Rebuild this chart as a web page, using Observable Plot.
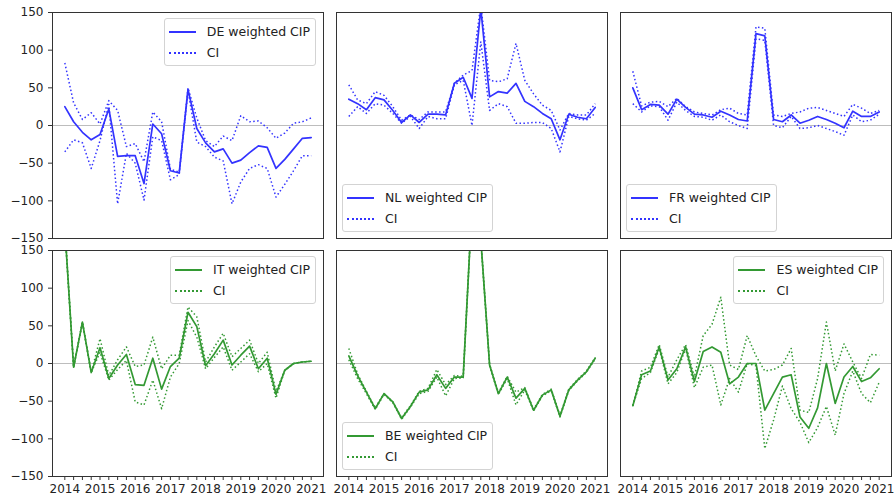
<!DOCTYPE html>
<html><head><meta charset="utf-8">
<script src="https://cdn.jsdelivr.net/npm/d3@7"></script>
<script src="https://cdn.jsdelivr.net/npm/@observablehq/plot@0.6"></script>
<style>
body{margin:0;background:#fff;font-family:"DejaVu Sans",sans-serif;}
#fig{position:relative;width:894px;height:498px;overflow:hidden;background:#fff;}
.panel{position:absolute;}
.legend{position:absolute;border:1px solid #d3d3d3;border-radius:3px;background:rgba(255,255,255,0.8);padding:2px 5px 2px 4px;font-size:12.5px;color:#222;}
.row{display:flex;align-items:center;height:21px;white-space:nowrap;}
.sw{width:27px;height:0;margin-right:11px;}
</style></head><body><div id="fig"></div><script>
const periods = ["2014Q1","2014Q2","2014Q3","2014Q4","2015Q1","2015Q2","2015Q3","2015Q4",
  "2016Q1","2016Q2","2016Q3","2016Q4","2017Q1","2017Q2","2017Q3","2017Q4",
  "2018Q1","2018Q2","2018Q3","2018Q4","2019Q1","2019Q2","2019Q3","2019Q4",
  "2020Q1","2020Q2","2020Q3","2020Q4","2021Q1"];
const yearLabels = [2014,2015,2016,2017,2018,2019,2020,2021];
const yTicks = [-150,-100,-50,0,50,100,150];

const deCIP = [25,5,-9,-19,-12,22,-41,-40,-40,-77,2,-11,-60,-63,48,-4,-23,-35,-31,-50,-46,-36,-27,-29,-57,-45,-31,-17,-16];
const deHi  = [83,30,8,17,2,33,20,-28,-24,-48,18,5,-58,-62,50,10,-20,-28,-14,-20,13,5,6,-3,-17,-10,3,5,10];
const deLo  = [-35,-19,-23,-57,-20,28,-104,-37,-50,-99,-15,-20,-72,-65,46,-22,-28,-42,-47,-104,-75,-57,-52,-57,-95,-78,-60,-40,-40];

const nlCIP = [35,29,21,37,34,20,4,14,4,15,15,14,56,64,36,155,38,45,43,56,32,25,16,9,-19,15,11,9,24];
const nlHi  = [54,34,29,45,40,25,7,14,8,18,18,18,56,67,73,160,60,58,62,109,60,42,27,20,-6,16,14,14,29];
const nlLo  = [12,25,16,29,27,16,3,12,-4,12,9,9,54,60,0,111,20,29,25,3,3,4,4,-4,-35,12,9,7,16];

const frCIP = [50,21,28,27,15,35,24,15,14,11,19,14,8,6,122,119,8,5,14,3,7,12,8,3,-3,19,12,12,18];
const frHi  = [72,26,31,32,25,36,25,18,16,14,21,23,16,14,131,129,14,12,16,18,23,24,20,16,12,28,23,16,20];
const frLo  = [29,18,26,25,7,31,20,12,11,7,14,5,0,-4,115,113,0,-3,12,-4,-3,0,-4,-8,-13,14,5,7,15];

const itCIP = [180,-5,55,-12,21,-20,-2,12,-28,-29,7,-34,-4,7,68,49,-3,13,31,-2,11,23,-7,7,-41,-9,0,2,3];
const itHi  = [180,-5,55,-12,33,-16,5,22,-4,-2,35,-7,11,11,75,62,2,22,40,9,20,31,0,15,-37,-9,0,2,3];
const itLo  = [180,-5,55,-12,15,-22,-8,4,-51,-55,-22,-60,-18,0,57,35,-7,8,22,-9,2,13,-11,0,-46,-9,0,2,3];

const beCIP = [10,-16,-38,-60,-40,-51,-73,-57,-38,-35,-15,-33,-18,-18,210,165,-2,-40,-18,-46,-33,-62,-42,-35,-70,-35,-22,-11,7];
const beHi  = [20,-14,-37,-59,-40,-51,-72,-56,-37,-33,-8,-28,-16,-17,212,167,-1,-39,-17,-38,-32,-61,-41,-34,-69,-34,-21,-10,8];
const beLo  = [5,-20,-40,-61,-41,-52,-74,-58,-40,-37,-18,-43,-20,-19,208,163,-3,-41,-20,-55,-35,-63,-43,-36,-71,-36,-23,-12,6];

const esCIP = [-56,-15,-10,22,-22,-7,22,-24,16,22,15,-27,-18,0,0,-62,-40,-18,-15,-71,-86,-59,0,-53,-18,-4,-24,-19,-7];
const esHi  = [-56,-10,-5,25,-18,5,25,-18,37,52,88,-2,-8,37,10,-10,-8,-2,20,-62,-65,-20,55,-10,26,2,-20,12,11];
const esLo  = [-56,-20,-12,20,-27,-12,20,-32,-5,-2,-55,-20,-38,0,-3,-113,-75,-30,-60,-78,-105,-85,-57,-95,-40,-10,-40,-52,-25];

const panels = [
  {name:"DE", main:deCIP, hi:deHi, lo:deLo, color:"#3333ff", col:0, row:0, legend:"ur"},
  {name:"NL", main:nlCIP, hi:nlHi, lo:nlLo, color:"#3333ff", col:1, row:0, legend:"ll"},
  {name:"FR", main:frCIP, hi:frHi, lo:frLo, color:"#3333ff", col:2, row:0, legend:"ll"},
  {name:"IT", main:itCIP, hi:itHi, lo:itLo, color:"#339933", col:0, row:1, legend:"ur"},
  {name:"BE", main:beCIP, hi:beHi, lo:beLo, color:"#339933", col:1, row:1, legend:"ll"},
  {name:"ES", main:esCIP, hi:esHi, lo:esLo, color:"#339933", col:2, row:1, legend:"ur"}
];

const tx = periods.map(p => +p.slice(0,4) + (+p.slice(5) - 1) / 4);
const colX = [52, 336, 620], rowY = [12, 250], PW = 271, PH = 226;
const fig = document.getElementById("fig");
const minus = d => d < 0 ? "\u2212" + Math.abs(d) : String(d);

for (const p of panels) {
  const data = periods.map((q, i) => ({t: tx[i], v: p.main[i], hi: p.hi[i], lo: p.lo[i]}));
  const mL = p.col === 0 ? 52 : 10, mR = 3;
  const mT = p.row === 0 ? 12 : 10, mB = p.row === 1 ? 22 : 2;
  const dash = {x:"t", stroke:p.color, strokeWidth:1.5, strokeDasharray:"1.5,2.4", strokeLinecap:"butt", clip:true};
  const svg = Plot.plot({
    width: mL + PW + mR, height: mT + PH + mB,
    marginLeft: mL, marginRight: mR, marginTop: mT, marginBottom: mB,
    style: {background:"transparent", overflow:"visible", fontFamily:"DejaVu Sans, sans-serif", fontSize:"12px", color:"#222"},
    x: {type:"linear", domain:[2013.65, 2021.35], axis:null},
    y: {domain:[-150,150], axis:null},
    marks: [
      Plot.ruleY([0], {stroke:"#bdbdbd", strokeWidth:1}),
      Plot.line(data, {x:"t", y:"v", stroke:p.color, strokeWidth:1.7, clip:true}),
      Plot.line(data, {...dash, y:"hi"}),
      Plot.line(data, {...dash, y:"lo"}),
      Plot.frame({stroke:"#333", strokeWidth:1}),
      p.col === 0 ? Plot.axisY({ticks:yTicks, tickSize:4, tickPadding:5, tickFormat:minus, label:null, stroke:"#333"}) : null,
      p.row === 1 ? Plot.axisX({ticks:tx, tickSize:4, tickPadding:4, label:null, stroke:"#333",
        tickFormat: d => yearLabels.includes(d) ? String(d) : ""}) : null
    ]
  });
  svg.classList.add("panel");
  svg.style.left = (colX[p.col] - mL) + "px";
  svg.style.top = (rowY[p.row] - mT) + "px";
  fig.appendChild(svg);

  const lg = document.createElement("div");
  lg.className = "legend";
  lg.innerHTML = `<div class="row"><span class="sw" style="border-top:2px solid ${p.color}"></span><span>${p.name} weighted CIP</span></div>` +
                 `<div class="row"><span class="sw" style="border-top:2px dotted ${p.color}"></span><span>CI</span></div>`;
  if (p.legend === "ur") {
    lg.style.right = (894 - (colX[p.col] + PW - 7)) + "px";
    lg.style.top = (rowY[p.row] + 6) + "px";
  } else {
    lg.style.left = (colX[p.col] + 6) + "px";
    lg.style.bottom = (498 - (rowY[p.row] + PH - 6)) + "px";
  }
  fig.appendChild(lg);
}
</script></body></html>
